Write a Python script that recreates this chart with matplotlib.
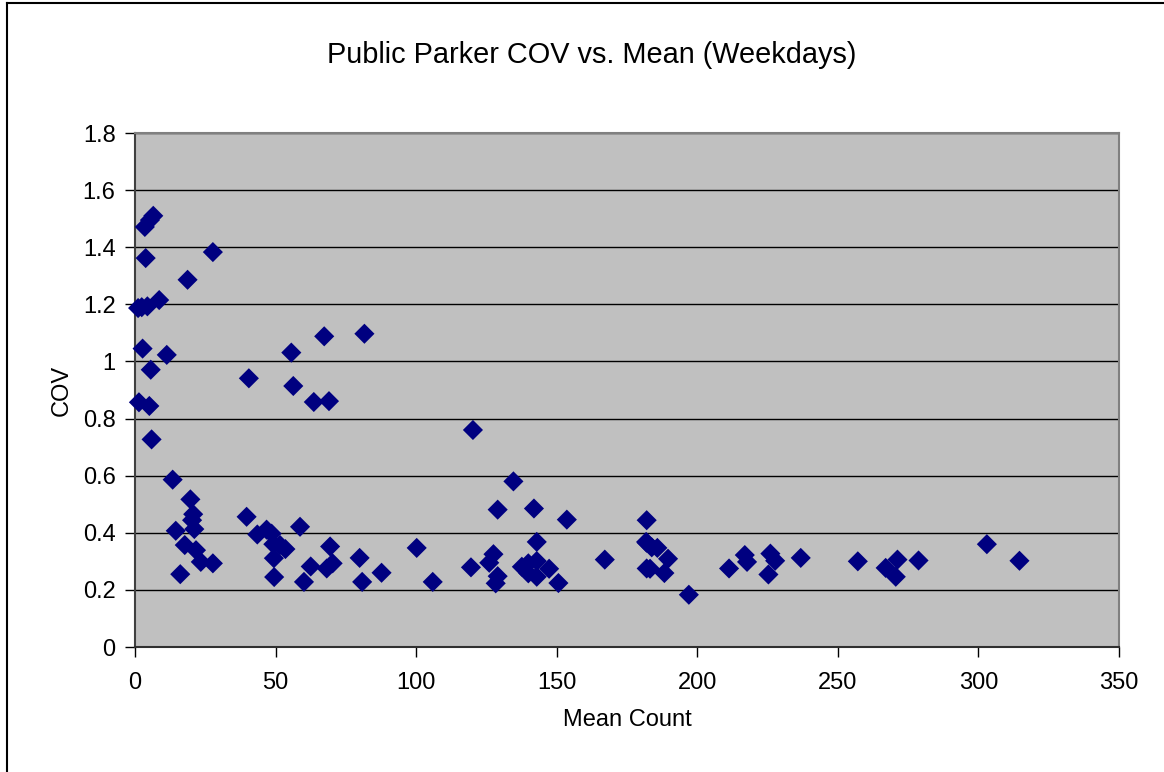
import matplotlib
matplotlib.use("Agg")
import matplotlib.pyplot as plt
from matplotlib.lines import Line2D

plt.rcParams['font.family'] = ['Liberation Sans', 'DejaVu Sans']

# Weekday parking counts: mean count per site and coefficient of variation
mean_count = [
    6.5, 5.3, 3.5, 3.8, 27.7, 18.7, 8.6, 1.1, 2.4, 4.4,
    2.7, 11.3, 5.6, 1.4, 5.1, 5.9, 39.7, 13.4, 19.7, 20.7,
    20.3, 21.1, 14.5, 17.7, 21.7, 23.4, 27.7, 16.1,
    55.6, 67.3, 81.6, 40.5, 56.3, 63.6, 69.0,
    43.5, 46.8, 48.6, 58.7, 49.2, 51.6, 53.5, 69.4, 49.4, 62.5,
    68.2, 70.3, 79.9, 87.7, 49.5, 60.1, 80.8, 100.2,
    120.2, 134.6, 129.0, 141.9, 153.6, 182.0, 142.9, 127.5, 126.0, 119.5,
    129.0, 128.3, 105.9, 137.6, 139.9, 139.9, 142.9, 142.9, 147.3, 150.6,
    167.1, 182.0, 182.0,
    181.8, 183.8, 185.8, 189.6, 183.2, 188.3, 197.0, 211.3, 216.9, 217.7,
    226.0, 227.7, 225.3, 236.8, 257.1, 267.0, 271.2, 270.6, 278.7, 303.0,
    314.6,
]
cov = [
    1.510, 1.495, 1.471, 1.362, 1.383, 1.286, 1.215, 1.187, 1.190, 1.193,
    1.045, 1.023, 0.971, 0.857, 0.844, 0.727, 0.456, 0.586, 0.517, 0.465,
    0.444, 0.413, 0.407, 0.357, 0.339, 0.298, 0.293, 0.255,
    1.031, 1.088, 1.097, 0.941, 0.914, 0.858, 0.861,
    0.394, 0.411, 0.397, 0.421, 0.360, 0.357, 0.343, 0.352, 0.311, 0.282,
    0.275, 0.293, 0.312, 0.260, 0.245, 0.228, 0.228, 0.347,
    0.760, 0.580, 0.481, 0.485, 0.446, 0.444, 0.368, 0.325, 0.295, 0.279,
    0.248, 0.223, 0.228, 0.281, 0.293, 0.258, 0.301, 0.246, 0.274, 0.224,
    0.306, 0.365, 0.275,
    0.368, 0.349, 0.347, 0.309, 0.274, 0.259, 0.183, 0.275, 0.322, 0.298,
    0.327, 0.302, 0.254, 0.312, 0.300, 0.277, 0.306, 0.246, 0.303, 0.360,
    0.302,
]

x_ticks = [0, 50, 100, 150, 200, 250, 300, 350]
y_ticks = [0, 0.2, 0.4, 0.6, 0.8, 1.0, 1.2, 1.4, 1.6, 1.8]
y_tick_labels = ['0', '0.2', '0.4', '0.6', '0.8', '1', '1.2', '1.4', '1.6', '1.8']

W, H = 1164, 772
fig = plt.figure(figsize=(W / 100, H / 100), dpi=100)
left, right, top, bottom = 135, 1119, 133, 647
ax = fig.add_axes([left / W, 1 - bottom / H, (right - left) / W, (bottom - top) / H])
ax.set_facecolor('#C0C0C0')

ax.scatter(mean_count, cov, marker='D', s=105, color='#000080',
           edgecolors='none', zorder=3, clip_on=False)

ax.set_xlim(0, 350)
ax.set_ylim(0, 1.8)
ax.set_xticks(x_ticks)
ax.set_xticklabels([str(t) for t in x_ticks])
ax.set_yticks(y_ticks)
ax.set_yticklabels(y_tick_labels)
ax.yaxis.grid(True, color='black', linewidth=1.0)
ax.set_axisbelow(True)

ax.tick_params(axis='both', direction='out', length=7, width=1,
               color='black', labelsize=17)
ax.tick_params(axis='x', pad=11)
ax.tick_params(axis='y', pad=7)

for side in ['top', 'right']:
    ax.spines[side].set_color('#808080')
    ax.spines[side].set_linewidth(1.5)
ax.spines['left'].set_color('#404040')
ax.spines['left'].set_linewidth(1.5)
ax.spines['bottom'].set_color('#303030')
ax.spines['bottom'].set_linewidth(1.5)

fig.text(592 / W, 1 - 55 / H, 'Public Parker COV vs. Mean (Weekdays)',
         ha='center', va='center', fontsize=20.8)
fig.text(627 / W, 1 - 720 / H, 'Mean Count', ha='center', va='center', fontsize=17)
fig.text(62 / W, 1 - 390 / H, 'COV', ha='center', va='center',
         rotation=90, fontsize=17)

# chart frame edges
fig.add_artist(Line2D([7 / W, 7 / W], [0, 1 - 3 / H], color='black', linewidth=1.5))
fig.add_artist(Line2D([7 / W, 1], [1 - 3 / H, 1 - 3 / H], color='black', linewidth=1.5))

fig.savefig('out.png', dpi=100, facecolor='white')
